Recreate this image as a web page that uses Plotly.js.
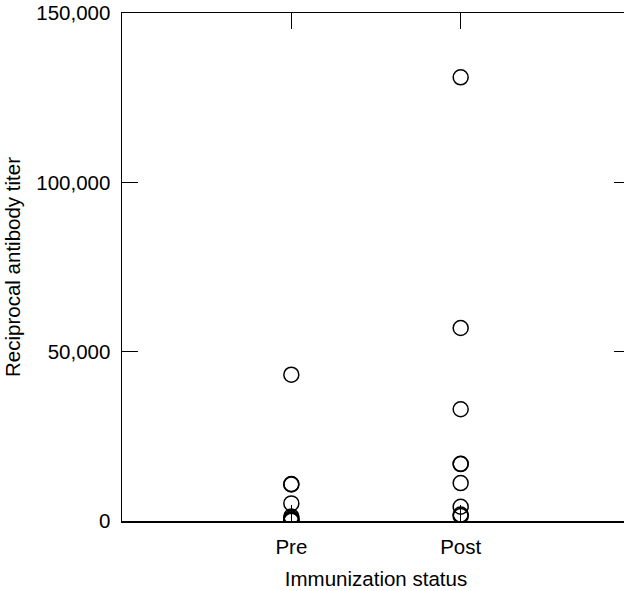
<!DOCTYPE html>
<html>
<head>
<meta charset="utf-8">
<script src="https://cdn.plot.ly/plotly-3.0.1.min.js"></script>
<style>
html, body { margin: 0; padding: 0; overflow: hidden; background: #fff; }
#chart { width: 640px; height: 591px; }
</style>
</head>
<body>
<div id="chart"></div>
<script>
// Categories and values
var categories = ["Pre", "Post"];
var preValues = [43200, 10900, 10800, 5200, 1300, 800, 400, 200, 100];
var postValues = [131000, 57000, 33000, 16900, 16800, 11200, 4200, 1900, 1500];
var yTickValues = [0, 50000, 100000, 150000];
var xTitle = "Immunization status";
var yTitle = "Reciprocal antibody titer";

function repeatCat(cat, n) { var a = []; for (var i = 0; i < n; i++) a.push(cat); return a; }

var markerStyle = {
  symbol: "circle-open",
  size: 15,
  color: "#000",
  line: { width: 1.5, color: "#000" }
};

var traces = [
  { type: "scatter", mode: "markers", x: repeatCat(categories[0], preValues.length), y: preValues, marker: markerStyle, hoverinfo: "y" },
  { type: "scatter", mode: "markers", x: repeatCat(categories[1], postValues.length), y: postValues, marker: markerStyle, hoverinfo: "y" }
];

var font = { family: "Liberation Sans, Arial, sans-serif", size: 20.5, color: "#000" };

var layout = {
  width: 640,
  height: 591,
  margin: { l: 122, r: 10, t: 13, b: 70 },
  paper_bgcolor: "#fff",
  plot_bgcolor: "#fff",
  showlegend: false,
  font: font,
  xaxis: {
    type: "category",
    categoryorder: "array",
    categoryarray: categories,
    range: [-1, 2],
    showgrid: false,
    zeroline: false,
    showline: true,
    linecolor: "#000",
    linewidth: 1.5,
    mirror: "ticks",
    ticks: "inside",
    ticklen: 16,
    tickwidth: 1.5,
    tickcolor: "#000",
    tickfont: font,
    ticklabelstandoff: 7,
    title: { text: xTitle, font: font, standoff: 14 }
  },
  yaxis: {
    range: [0, 150000],
    tickvals: yTickValues,
    tickformat: ",d",
    showgrid: false,
    zeroline: false,
    showline: true,
    linecolor: "#000",
    linewidth: 1.5,
    mirror: "ticks",
    ticks: "inside",
    ticklen: 16,
    tickwidth: 1.5,
    tickcolor: "#000",
    tickfont: font,
    ticklabelstandoff: 6,
    title: { text: yTitle, font: font, standoff: 10 }
  }
};

Plotly.newPlot("chart", traces, layout, { displayModeBar: false, staticPlot: true });
</script>
</body>
</html>
